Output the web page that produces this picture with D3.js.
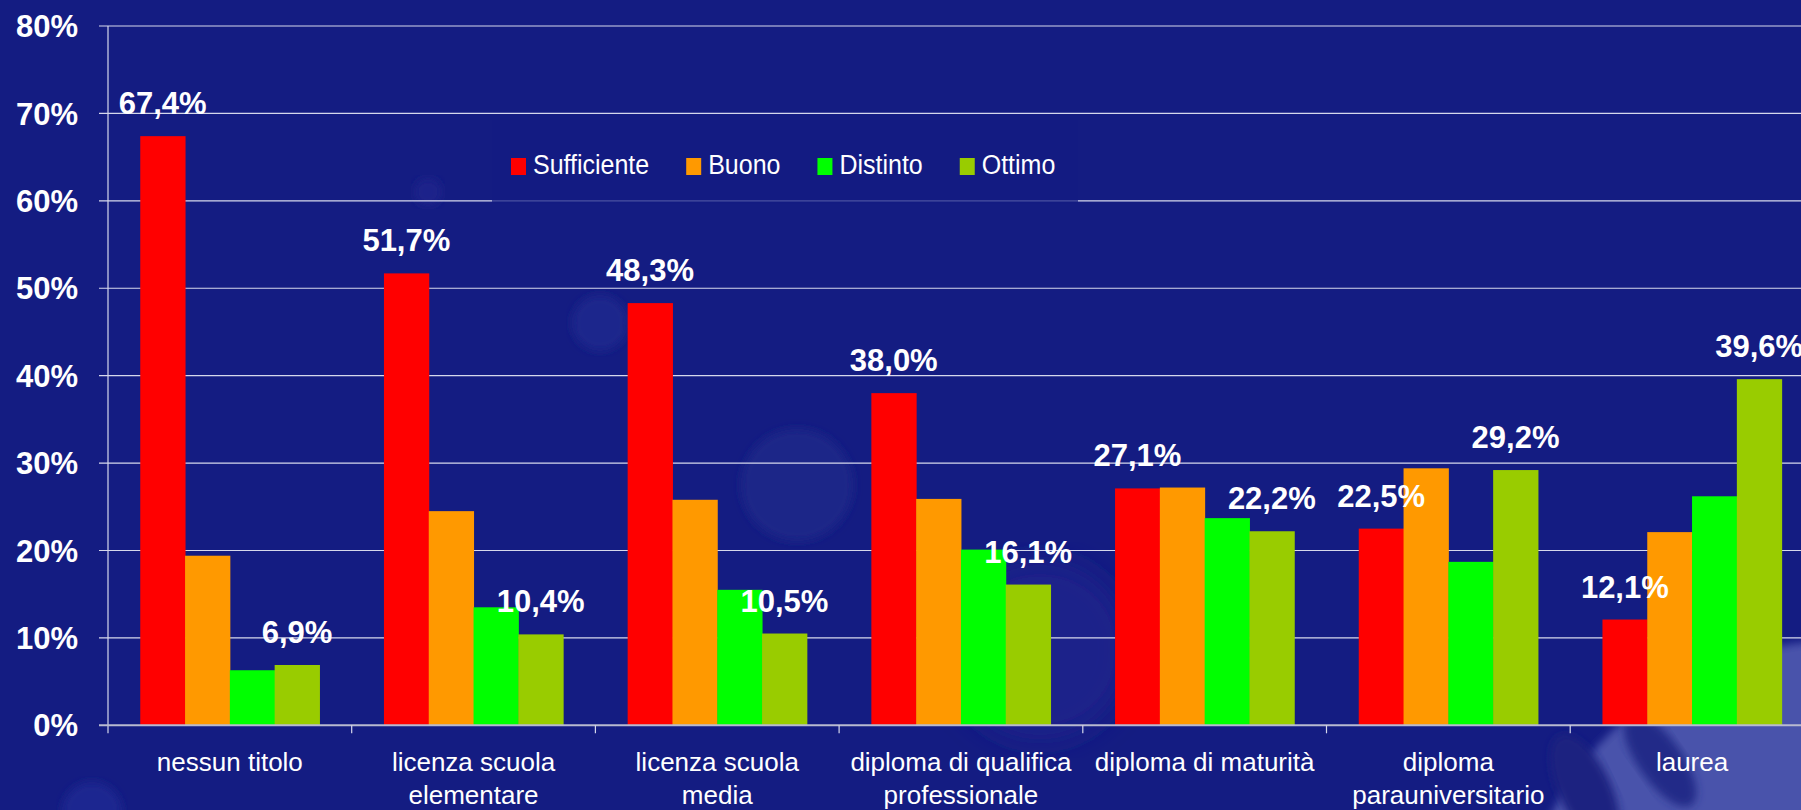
<!DOCTYPE html>
<html>
<head>
<meta charset="utf-8">
<script src="https://cdn.jsdelivr.net/npm/d3@7"></script>
<style>
  html, body { margin: 0; padding: 0; background: #141c82; overflow: hidden; }
  text { font-family: "Liberation Sans", Arial, sans-serif; fill: #fff; }
</style>
</head>
<body>
<div id="chart"></div>
<script>
// data (percent values)
var categories = ["nessun titolo", "licenza scuola\nelementare", "licenza scuola\nmedia",
  "diploma di qualifica\nprofessionale", "diploma di maturità", "diploma\nparauniversitario", "laurea"];
var seriesNames = ["Sufficiente", "Buono", "Distinto", "Ottimo"];
var sufficiente = [67.4, 51.7, 48.3, 38.0, 27.1, 22.5, 12.1];
var buono       = [19.4, 24.5, 25.8, 25.9, 27.2, 29.4, 22.1];
var distinto    = [6.3, 13.5, 15.5, 20.1, 23.7, 18.7, 26.2];
var ottimo      = [6.9, 10.4, 10.5, 16.1, 22.2, 29.2, 39.6];
var yTicks = [0, 10, 20, 30, 40, 50, 60, 70, 80];
var labelledSeries = ["Sufficiente", "Ottimo"];

var colors = ["#ff0000", "#ff9900", "#00ff00", "#99cc00"];
var allSeries = [sufficiente, buono, distinto, ottimo];

var W = 1801, H = 810;
var plotLeft = 108, plotTop = 26, plotBottom = 725.3, step = 243.7;

var it = d3.formatLocale({decimal: ",", thousands: ".", grouping: [3], currency: ["", "€"]});
var fmt = it.format(".1f");

var svg = d3.select("#chart").append("svg")
  .attr("width", W).attr("height", H);

// background
svg.append("rect").attr("width", W).attr("height", H).attr("fill", "#141c82");
var defs = svg.append("defs");
defs.append("filter").attr("id", "soft").append("feGaussianBlur").attr("stdDeviation", 4);
defs.append("filter").attr("id", "softer").append("feGaussianBlur").attr("stdDeviation", 14);

var deco = svg.append("g");
deco.append("circle").attr("cx", 600).attr("cy", 323).attr("r", 28).attr("fill", "#1f278c").attr("filter", "url(#soft)");
deco.append("circle").attr("cx", 428).attr("cy", 192).attr("r", 14).attr("fill", "#1c248a").attr("filter", "url(#soft)");
deco.append("circle").attr("cx", 797).attr("cy", 485).attr("r", 56).attr("fill", "#1d2588").attr("filter", "url(#soft)");
deco.append("circle").attr("cx", 1040).attr("cy", 650).attr("r", 90).attr("fill", "#1b238a").attr("filter", "url(#softer)");
deco.append("circle").attr("cx", 92).attr("cy", 812).attr("r", 30).attr("fill", "#1f2790").attr("filter", "url(#soft)");
deco.append("ellipse").attr("cx", 1845).attr("cy", 930).attr("rx", 320).attr("ry", 290)
  .attr("fill", "#4a52ab").attr("filter", "url(#soft)");
deco.append("ellipse").attr("cx", 1585).attr("cy", 790).attr("rx", 26).attr("ry", 60)
  .attr("transform", "rotate(-25,1585,790)").attr("fill", "#1c2380").attr("filter", "url(#soft)");
deco.append("ellipse").attr("cx", 1660).attr("cy", 760).attr("rx", 22).attr("ry", 55)
  .attr("transform", "rotate(-35,1660,760)").attr("fill", "#242b88").attr("filter", "url(#soft)");

// scales
var x0 = d3.scaleBand().domain(categories).range([plotLeft, plotLeft + step * categories.length]).padding(0);
var x1 = d3.scaleBand().domain(seriesNames).range([0, x0.bandwidth()]).paddingInner(0).paddingOuter(0.72);
var y = d3.scaleLinear().domain([0, 80]).range([plotBottom, plotTop]);

// gridlines
svg.append("g").selectAll("line").data(yTicks.filter(function(d) { return d > 0; })).enter()
  .append("line")
  .attr("x1", plotLeft - 9).attr("x2", W)
  .attr("y1", function(d) { return y(d); }).attr("y2", function(d) { return y(d); })
  .attr("stroke", "#d6d8ec").attr("stroke-width", 1.2);

// y axis labels
svg.append("g").selectAll("text").data(yTicks).enter()
  .append("text")
  .attr("x", 78).attr("y", function(d) { return y(d); })
  .attr("dy", "0.36em")
  .attr("text-anchor", "end")
  .style("font-size", "31px").style("font-weight", "bold")
  .text(function(d) { return d + "%"; });

// bars
var groups = svg.append("g").selectAll("g").data(categories).enter()
  .append("g")
  .attr("transform", function(d) { return "translate(" + x0(d) + ",0)"; });

groups.selectAll("rect")
  .data(function(c, ci) { return seriesNames.map(function(s, si) { return {s: s, si: si, v: allSeries[si][ci]}; }); })
  .enter().append("rect")
  .attr("x", function(d) { return x1(d.s); })
  .attr("width", x1.bandwidth() + 0.5)
  .attr("y", function(d) { return y(d.v); })
  .attr("height", function(d) { return y(0) - y(d.v); })
  .attr("fill", function(d) { return colors[d.si]; });

// value labels
groups.selectAll("text.val")
  .data(function(c, ci) {
    return seriesNames.filter(function(s) { return labelledSeries.indexOf(s) >= 0; })
      .map(function(s) { var si = seriesNames.indexOf(s); return {s: s, v: allSeries[si][ci]}; });
  })
  .enter().append("text")
  .attr("class", "val")
  .attr("x", function(d) { return x1(d.s) + x1.bandwidth() / 2; })
  .attr("y", function(d) { return y(d.v) - 22; })
  .attr("text-anchor", "middle")
  .style("font-size", "31px").style("font-weight", "bold")
  .text(function(d) { return fmt(d.v) + "%"; });

// axes lines
svg.append("line").attr("x1", plotLeft).attr("x2", plotLeft).attr("y1", plotTop).attr("y2", plotBottom + 8)
  .attr("stroke", "#d6d8ec").attr("stroke-width", 1.2);
svg.append("line").attr("x1", plotLeft - 9).attr("x2", W).attr("y1", plotBottom).attr("y2", plotBottom)
  .attr("stroke", "#b8bad0").attr("stroke-width", 2);
svg.append("g").selectAll("line").data(categories.slice(1)).enter()
  .append("line")
  .attr("x1", function(d) { return x0(d); }).attr("x2", function(d) { return x0(d); })
  .attr("y1", plotBottom).attr("y2", plotBottom + 8)
  .attr("stroke", "#d6d8ec").attr("stroke-width", 1.2);

// category labels
var catLabels = svg.append("g").selectAll("text").data(categories).enter()
  .append("text")
  .attr("text-anchor", "middle")
  .style("font-size", "26px");
catLabels.each(function(d) {
  var t = d3.select(this);
  d.split("\n").forEach(function(line, i) {
    t.append("tspan")
      .attr("x", x0(d) + x0.bandwidth() / 2)
      .attr("y", 771 + i * 33)
      .text(line);
  });
});

// legend
var legend = svg.append("g");
legend.append("rect").attr("x", 492).attr("y", 120).attr("width", 586).attr("height", 84)
  .attr("fill", "#141c82").attr("fill-opacity", 0.72);
var lx = 511;
seriesNames.forEach(function(s, i) {
  legend.append("rect").attr("x", lx).attr("y", 158).attr("width", 15).attr("height", 17)
    .attr("fill", colors[i]);
  var t = legend.append("text")
    .attr("transform", "translate(" + (lx + 22) + ",174) scale(1,1.08)")
    .style("font-size", "25px")
    .text(s);
  lx += 22 + t.node().getComputedTextLength() + 37;
});
</script>
</body>
</html>
